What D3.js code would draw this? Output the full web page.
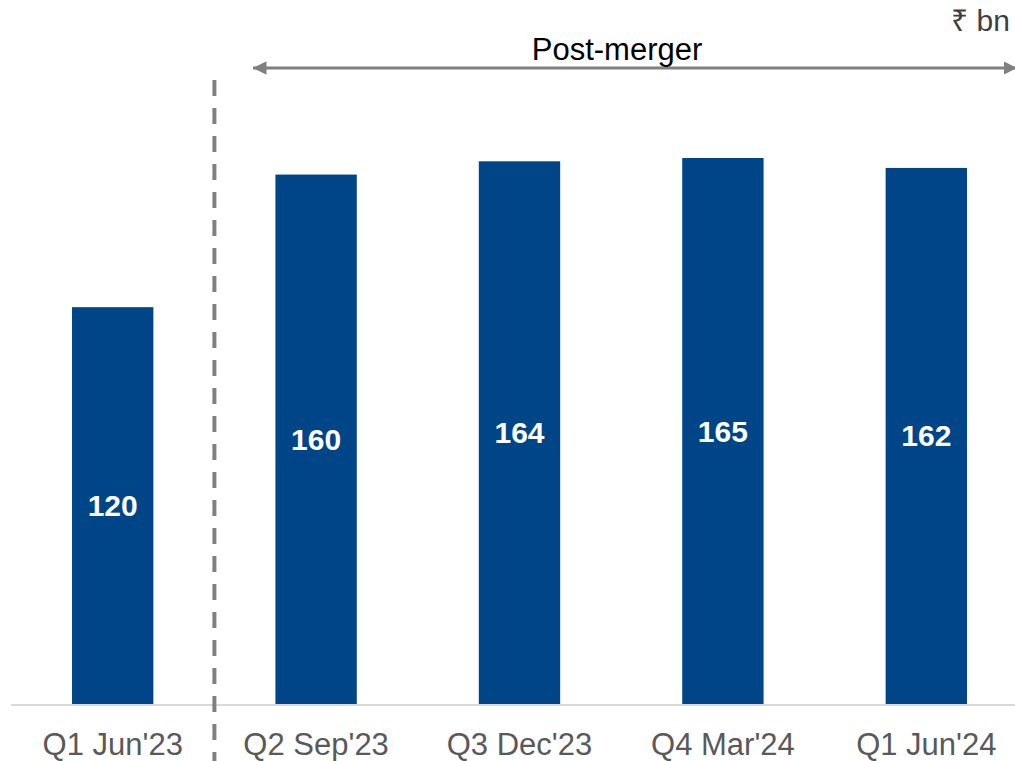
<!DOCTYPE html>
<html><head><meta charset="utf-8">
<script src="https://cdn.jsdelivr.net/npm/d3@7"></script>
<style>body{margin:0;background:#fff}svg{display:block}</style>
</head><body>
<svg id="c" width="1015" height="761"></svg>
<script>
const categories = ["Q1 Jun'23", "Q2 Sep'23", "Q3 Dec'23", "Q4 Mar'24", "Q1 Jun'24"];
const values = [120, 160, 164, 165, 162];
const unitLabel = "₹ bn";
const bracketLabel = "Post-merger";

const svg = d3.select("#c");
const font = "'Liberation Sans', Arial, sans-serif";
const baseY = 705;
const x = d3.scaleBand().domain(categories).range([11, 1028]).paddingInner(0.6).paddingOuter(0.3);
const y = d3.scaleLinear().domain([0, 165]).range([baseY, 158]);

svg.selectAll("rect.bar").data(values).join("rect")
  .attr("class", "bar")
  .attr("x", (d, i) => x(categories[i]))
  .attr("width", x.bandwidth())
  .attr("y", d => y(d))
  .attr("height", d => baseY - y(d))
  .attr("fill", "#004587");

svg.selectAll("text.val").data(values).join("text")
  .attr("class", "val")
  .attr("x", (d, i) => x(categories[i]) + x.bandwidth() / 2)
  .attr("y", d => (y(d) + baseY) / 2 + 10)
  .attr("text-anchor", "middle")
  .attr("fill", "#fff")
  .attr("font-family", font)
  .attr("font-weight", "bold")
  .attr("font-size", 30)
  .text(d => d);

// axis
const axis = d3.axisBottom(x).tickSize(0).tickPadding(0);
const g = svg.append("g").attr("transform", `translate(0,${baseY})`).call(axis);
g.select(".domain").attr("d", "M11,0H1015").attr("stroke", "#d9d9d9").attr("stroke-width", 2);
g.selectAll("text").attr("font-family", font).attr("font-size", 31).attr("fill", "#595959")
  .attr("dy", null).attr("y", 50);

// dashed separator
const sepX = (x(categories[0]) + x.bandwidth() + x(categories[1])) / 2;
svg.append("line").attr("x1", sepX).attr("x2", sepX).attr("y1", 80).attr("y2", 761)
  .attr("stroke", "#808080").attr("stroke-width", 4).attr("stroke-dasharray", "16,12");

// arrow
const defs = svg.append("defs");
["s", "e"].forEach(k => {
  defs.append("marker").attr("id", "m" + k).attr("viewBox", "0 0 10 10")
    .attr("refX", 10).attr("refY", 5).attr("markerWidth", 4.5).attr("markerHeight", 5.5)
    .attr("orient", "auto-start-reverse").attr("markerUnits", "strokeWidth")
    .append("path").attr("d", "M0,0L10,5L0,10Z").attr("fill", "#808080");
});
svg.append("line").attr("x1", 253).attr("x2", 1017).attr("y1", 68).attr("y2", 68)
  .attr("stroke", "#808080").attr("stroke-width", 3)
  .attr("marker-start", "url(#ms)").attr("marker-end", "url(#me)");

svg.append("text").attr("x", 617).attr("y", 60).attr("text-anchor", "middle")
  .attr("font-family", font).attr("font-size", 31).attr("fill", "#000").text(bracketLabel);
svg.append("text").attr("x", 1010).attr("y", 31).attr("text-anchor", "end")
  .attr("font-family", font).attr("font-size", 30).attr("fill", "#404040").text(unitLabel);
</script>
</body></html>
